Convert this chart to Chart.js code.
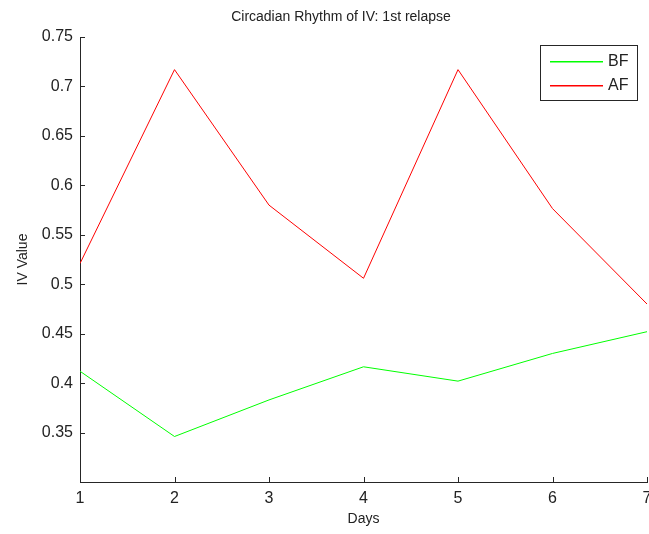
<!DOCTYPE html>
<html>
<head>
<meta charset="utf-8">
<script src="https://cdn.jsdelivr.net/npm/chart.js@4"></script>
<style>
  html, body { margin: 0; padding: 0; background: #fff; }
  #wrap { width: 649px; height: 534px; }
</style>
</head>
<body>
<div id="wrap"><canvas id="iv-chart" width="649" height="534"></canvas></div>
<script>
const days = [1, 2, 3, 4, 5, 6, 7];
const bfValues = [0.412, 0.346, 0.383, 0.4165, 0.402, 0.430, 0.452];
const afValues = [0.521, 0.717, 0.580, 0.506, 0.717, 0.5765, 0.480];
const yTicks = [0.3, 0.35, 0.4, 0.45, 0.5, 0.55, 0.6, 0.65, 0.7, 0.75];

const FONT = 'Liberation Sans, Arial, Helvetica, sans-serif';
const BF_COLOR = '#00ff00';
const AF_COLOR = '#ff0000';

// inward tick marks, the way matlab draws them
const innerTicks = {
    id: 'innerTicks',
    afterDraw(chart) {
        const c = chart.ctx;
        const a = chart.chartArea;
        const xs = chart.scales.x, ys = chart.scales.y;
        c.save();
        c.strokeStyle = '#262626';
        c.lineWidth = 1;
        c.beginPath();
        days.forEach(d => {
            const px = Math.round(xs.getPixelForValue(d)) + 0.5;
            c.moveTo(px, a.bottom);
            c.lineTo(px, a.bottom - 5);
        });
        yTicks.forEach(v => {
            const py = Math.round(ys.getPixelForValue(v)) + 0.5;
            c.moveTo(a.left, py);
            c.lineTo(a.left + 5, py);
        });
        c.stroke();
        c.restore();
    }
};

// title text and boxed legend
const decorations = {
    id: 'decorations',
    afterDraw(chart) {
        const c = chart.ctx;
        c.save();
        c.fillStyle = '#222';
        c.font = '14px ' + FONT;
        c.textAlign = 'center';
        c.textBaseline = 'middle';
        c.fillText('Circadian Rhythm of IV: 1st relapse', 341, 17);

        c.fillStyle = '#fff';
        c.fillRect(540.5, 45.5, 97, 55);
        c.strokeStyle = '#262626';
        c.lineWidth = 1;
        c.strokeRect(540.5, 45.5, 97, 55);
        c.textAlign = 'left';
        c.font = '16px ' + FONT;
        const colors = [BF_COLOR, AF_COLOR];
        chart.data.datasets.forEach((ds, i) => {
            const y = 61 + Math.round(i * 23.5);
            c.fillStyle = colors[i];
            c.fillRect(550, y, 53, 1.5);
            c.fillStyle = '#222';
            c.fillText(ds.label, 608, y + 1);
        });
        c.restore();
    }
};

const ctx = document.getElementById('iv-chart').getContext('2d');
const ivChart = new Chart(ctx, {
    type: 'line',
    data: {
        datasets: [{
            label: 'BF',
            data: days.map((d, i) => ({ x: d, y: bfValues[i] })),
            borderColor: BF_COLOR,
            backgroundColor: 'transparent',
            borderWidth: 1,
            pointRadius: 0,
            tension: 0
        }, {
            label: 'AF',
            data: days.map((d, i) => ({ x: d, y: afValues[i] })),
            borderColor: AF_COLOR,
            backgroundColor: 'transparent',
            borderWidth: 1,
            pointRadius: 0,
            tension: 0
        }]
    },
    plugins: [innerTicks, decorations],
    options: {
        responsive: false,
        animation: false,
        layout: { padding: { top: 37, right: 2, left: 0, bottom: 0 } },
        plugins: {
            legend: { display: false },
            tooltip: { enabled: false }
        },
        scales: {
            x: {
                type: 'linear',
                min: 1,
                max: 7,
                afterBuildTicks(scale) { scale.ticks = days.map(v => ({ value: v })); },
                afterFit(scale) {
                    scale.height = 52;
                    scale.paddingLeft = 0;
                    scale.paddingRight = 0;
                },
                grid: { display: false, drawTicks: false },
                border: { display: true, color: '#262626', width: 1 },
                ticks: {
                    padding: 7,
                    color: '#222',
                    font: { family: FONT, size: 16 },
                    maxRotation: 0
                },
                title: {
                    display: true,
                    text: 'Days',
                    color: '#222',
                    font: { family: FONT, size: 14 },
                    padding: { top: 2, bottom: 6 }
                }
            },
            y: {
                type: 'linear',
                min: 0.3,
                max: 0.75,
                afterBuildTicks(scale) { scale.ticks = yTicks.map(v => ({ value: v })); },
                afterFit(scale) {
                    scale.width = 80;
                    scale.paddingTop = 0;
                    scale.paddingBottom = 0;
                },
                grid: { display: false, drawTicks: false },
                border: { display: true, color: '#262626', width: 1 },
                ticks: {
                    padding: 7,
                    color: '#222',
                    font: { family: FONT, size: 16 },
                    callback: v => (v < 0.32 ? '' : String(+v.toFixed(2)))
                },
                title: {
                    display: true,
                    text: 'IV Value',
                    color: '#222',
                    font: { family: FONT, size: 14 },
                    padding: { top: 15, bottom: 0 }
                }
            }
        }
    }
});
</script>
</body>
</html>
